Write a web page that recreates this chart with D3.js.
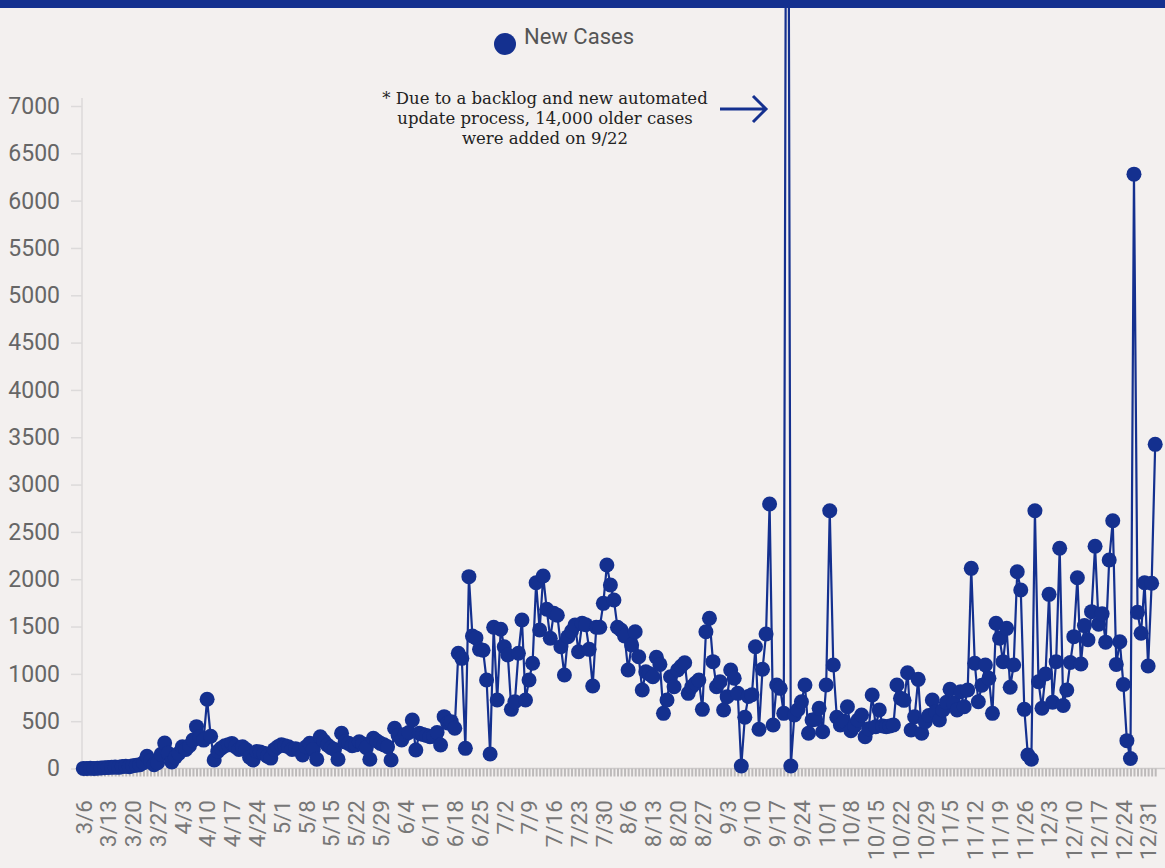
<!DOCTYPE html>
<html><head><meta charset="utf-8">
<script src="https://cdn.jsdelivr.net/npm/d3@7"></script>
<style>html,body{margin:0;padding:0;background:#f3f0ef;} svg{display:block;}</style>
</head><body><svg id="c" width="1165" height="868"></svg>
<script>
const tickLabels = ["3/6","3/13","3/20","3/27","4/3","4/10","4/17","4/24","5/1","5/8","5/15","5/22","5/29","6/4","6/11","6/18","6/25","7/2","7/9","7/16","7/23","7/30","8/6","8/13","8/20","8/27","9/3","9/10","9/17","9/24","10/1","10/8","10/15","10/22","10/29","11/5","11/12","11/19","11/26","12/3","12/10","12/17","12/24","12/31"];
const yTicks = [0,500,1000,1500,2000,2500,3000,3500,4000,4500,5000,5500,6000,6500,7000];
const seriesName = "New Cases";
const newCases = [
1,0,2,1,3,5,8,10,12,15,12,20,25,18,30,35,40,
60,130,80,40,60,150,270,160,70,120,160,230,200,240,300,442,336,300,731,340,90,180,215,240,250,265,230,200,230,200,120,90,180,175,160,130,110,200,230,250,
240,230,200,210,195,143,230,266,200,97,336,290,248,220,200,97,372,280,266,240,250,283,260,220,97,319,290,266,250,230,90,425,350,301,360,380,512,195,372,360,350,336,340,380,248,548,480,495,425,1217,1164,213,2027,
1400,1380,1259,1250,935,153,1492,724,1471,1287,1200,625,706,1217,1569,724,935,1112,1963,1463,2034,1682,1376,1640,1620,1287,988,1393,1450,1516,1234,1534,1520,1259,872,1492,1492,1745,2150,1939,1780,1492,1463,1400,1041,1305,1445,1181,
829,1023,1000,970,1175,1100,583,724,970,864,1041,1080,1118,794,864,900,935,625,1445,1587,1129,864,917,618,759,1041,953,794,26,541,760,780,1287,414,1048,1421,2795,460,882,847,583,14600,
26,565,620,706,882,372,512,520,636,389,882,2724,1094,541,460,500,653,400,450,512,565,336,420,777,442,618,450,442,450,460,882,742,720,1012,407,547,
942,372,495,560,724,600,512,618,700,837,689,618,812,653,829,2115,1112,706,880,1094,953,583,1534,1376,1129,1481,858,1094,2079,1886,625,143,97,2724,917,636,998,1840,700,1129,2327,665,829,1120,1393,2015,1104,1510,1360,1657,2348,1525,1634,1335,2203,2618,1100,1340,888,294,105,6280,1650,1429,1963,1083,1957,3425
];

const blue = "#14308f";
const svg = d3.select("#c");
svg.append("rect").attr("width",1165).attr("height",868).attr("fill","#f3f0ef");

const idx = d3.range(newCases.length);
const x = d3.scalePoint().domain(idx).range([83.3, 1155.2]);
const y = d3.scaleLinear().domain([0,7000]).range([768.5,106]);

// y axis
const ya = svg.append("g").attr("transform","translate(82,0)")
  .call(d3.axisLeft(y).tickValues(yTicks).tickFormat(d3.format("d")).tickSize(11).tickPadding(11).tickSizeOuter(0));
ya.select(".domain").remove();
ya.selectAll(".tick line").attr("stroke","#dcdada").attr("stroke-width",1.5);
ya.selectAll(".tick text").attr("fill","#666").style("font-family","Roboto").style("font-size","23px");
svg.append("line").attr("x1",82).attr("x2",82).attr("y1",98).attr("y2",768.5)
  .attr("stroke","#dcdada").attr("stroke-width",1.5);

// x axis
const xa = svg.append("g").attr("transform","translate(0,768.5)")
  .call(d3.axisBottom(x).tickValues(idx).tickSize(8).tickSizeOuter(0)
    .tickFormat(i => i % 7 === 0 ? (tickLabels[i/7] || "") : ""));
xa.select(".domain").attr("stroke","#cfcccc").attr("stroke-width",1.5).attr("d","M82,0H1165");
xa.selectAll(".tick line").attr("stroke","#bdbaba").attr("stroke-width",2);
xa.selectAll(".tick text")
  .attr("transform","rotate(-90)").attr("text-anchor","end")
  .attr("x",-31.5).attr("y",0).attr("dy","0.35em")
  .attr("fill","#777").style("font-family","Roboto").style("font-size","22.5px");

// line + dots
const line = d3.line().x((d,i)=>x(i)).y(d=>y(d));
svg.append("path").datum(newCases).attr("d",line).attr("fill","none")
  .attr("stroke",blue).attr("stroke-width",2.2).attr("stroke-linejoin","round");
svg.append("g").selectAll("circle").data(newCases).join("circle")
  .attr("cx",(d,i)=>x(i)).attr("cy",d=>y(d)).attr("r",7.5).attr("fill",blue);

// top bar
svg.append("rect").attr("x",0).attr("y",0).attr("width",1165).attr("height",8).attr("fill",blue);

// legend
svg.append("circle").attr("cx",505).attr("cy",44).attr("r",11).attr("fill",blue);
svg.append("text").attr("x",524).attr("y",44).text(seriesName)
  .attr("fill","#555").style("font-family","Roboto").style("font-size","22px");

// annotation
const notes = ["* Due to a backlog and new automated","update process, 14,000 older cases","were added on 9/22"];
svg.append("g").selectAll("text").data(notes).join("text")
  .attr("x",545).attr("y",(d,i)=>104+i*20).attr("text-anchor","middle")
  .attr("fill","#222").style("font-family","'DejaVu Serif'").style("font-size","16.5px").text(d=>d);
svg.append("path").attr("d","M720,109H766M753,96L766,109L753,122")
  .attr("fill","none").attr("stroke",blue).attr("stroke-width",3);
</script></body></html>
